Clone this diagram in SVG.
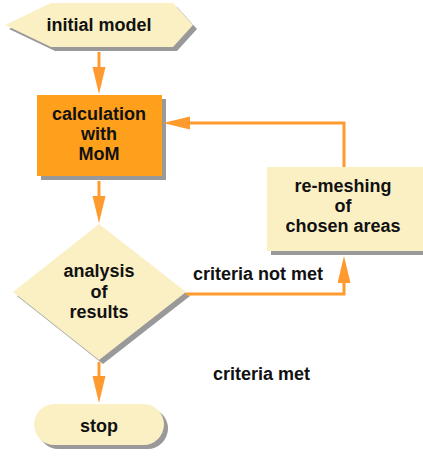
<svg xmlns="http://www.w3.org/2000/svg" width="423" height="456" viewBox="0 0 423 456">
<defs>
<style>
.t{font-family:"Liberation Sans",Arial,sans-serif;font-weight:bold;font-size:18px;fill:#111;text-anchor:middle}
.l{font-family:"Liberation Sans",Arial,sans-serif;font-weight:bold;font-size:18px;fill:#111}
.sh{fill:#999999}
.cr{fill:#FBF0C4}
.c{fill:none;stroke:#FF9A2E;stroke-width:3}
</style>
<marker id="ah" markerUnits="userSpaceOnUse" markerWidth="28" markerHeight="14" refX="17" refY="6.5" orient="auto">
<path d="M0,0 L27,6.5 L0,13 Z" fill="#FF9A2E"/>
</marker>
</defs>
<rect width="423" height="456" fill="#fff"/>
<g id="initial">
<polygon class="sh" points="9,29 55,7 177,7 197,29 177,51 55,51"/>
<polygon class="cr" points="5,25 51,3 173,3 193,25 173,47 51,47"/>
<text class="t" x="99" y="31">initial model</text>
</g>
<g id="calc">
<rect class="sh" x="41" y="99" width="125" height="81"/>
<rect x="37" y="95" width="125" height="81" fill="#FFA01C"/>
<text class="t" x="99" y="120">calculation</text>
<text class="t" x="99" y="140">with</text>
<text class="t" x="99" y="160">MoM</text>
</g>
<g id="analysis">
<polygon class="sh" points="103,228 190,296 103,364 17,296"/>
<polygon class="cr" points="99,224 186,292 99,360 13,292"/>
<text class="t" x="99" y="277">analysis</text>
<text class="t" x="99" y="298">of</text>
<text class="t" x="99" y="318">results</text>
</g>
<g id="remesh">
<rect class="sh" x="271" y="171" width="160" height="84"/>
<rect class="cr" x="267" y="167" width="160" height="84"/>
<text class="t" x="343" y="192">re-meshing</text>
<text class="t" x="343" y="212">of</text>
<text class="t" x="343" y="232">chosen areas</text>
</g>
<g id="stop">
<rect class="sh" x="38" y="408" width="130" height="41" rx="20.5"/>
<rect class="cr" x="34" y="404" width="130" height="41" rx="20.5"/>
<text class="t" x="99" y="432">stop</text>
</g>
<g id="connectors">
<path class="c" d="M99,52 V84" marker-end="url(#ah)"/>
<path class="c" d="M99,181 V213" marker-end="url(#ah)"/>
<path class="c" d="M99,362 V393" marker-end="url(#ah)"/>
<path class="c" d="M186,294 H344 V266" marker-end="url(#ah)"/>
<path class="c" d="M344,167 V123 H173" marker-end="url(#ah)"/>
</g>
<g id="labels">
<text class="l" x="193" y="280">criteria not met</text>
<text class="l" x="213" y="380">criteria met</text>
</g>
</svg>
